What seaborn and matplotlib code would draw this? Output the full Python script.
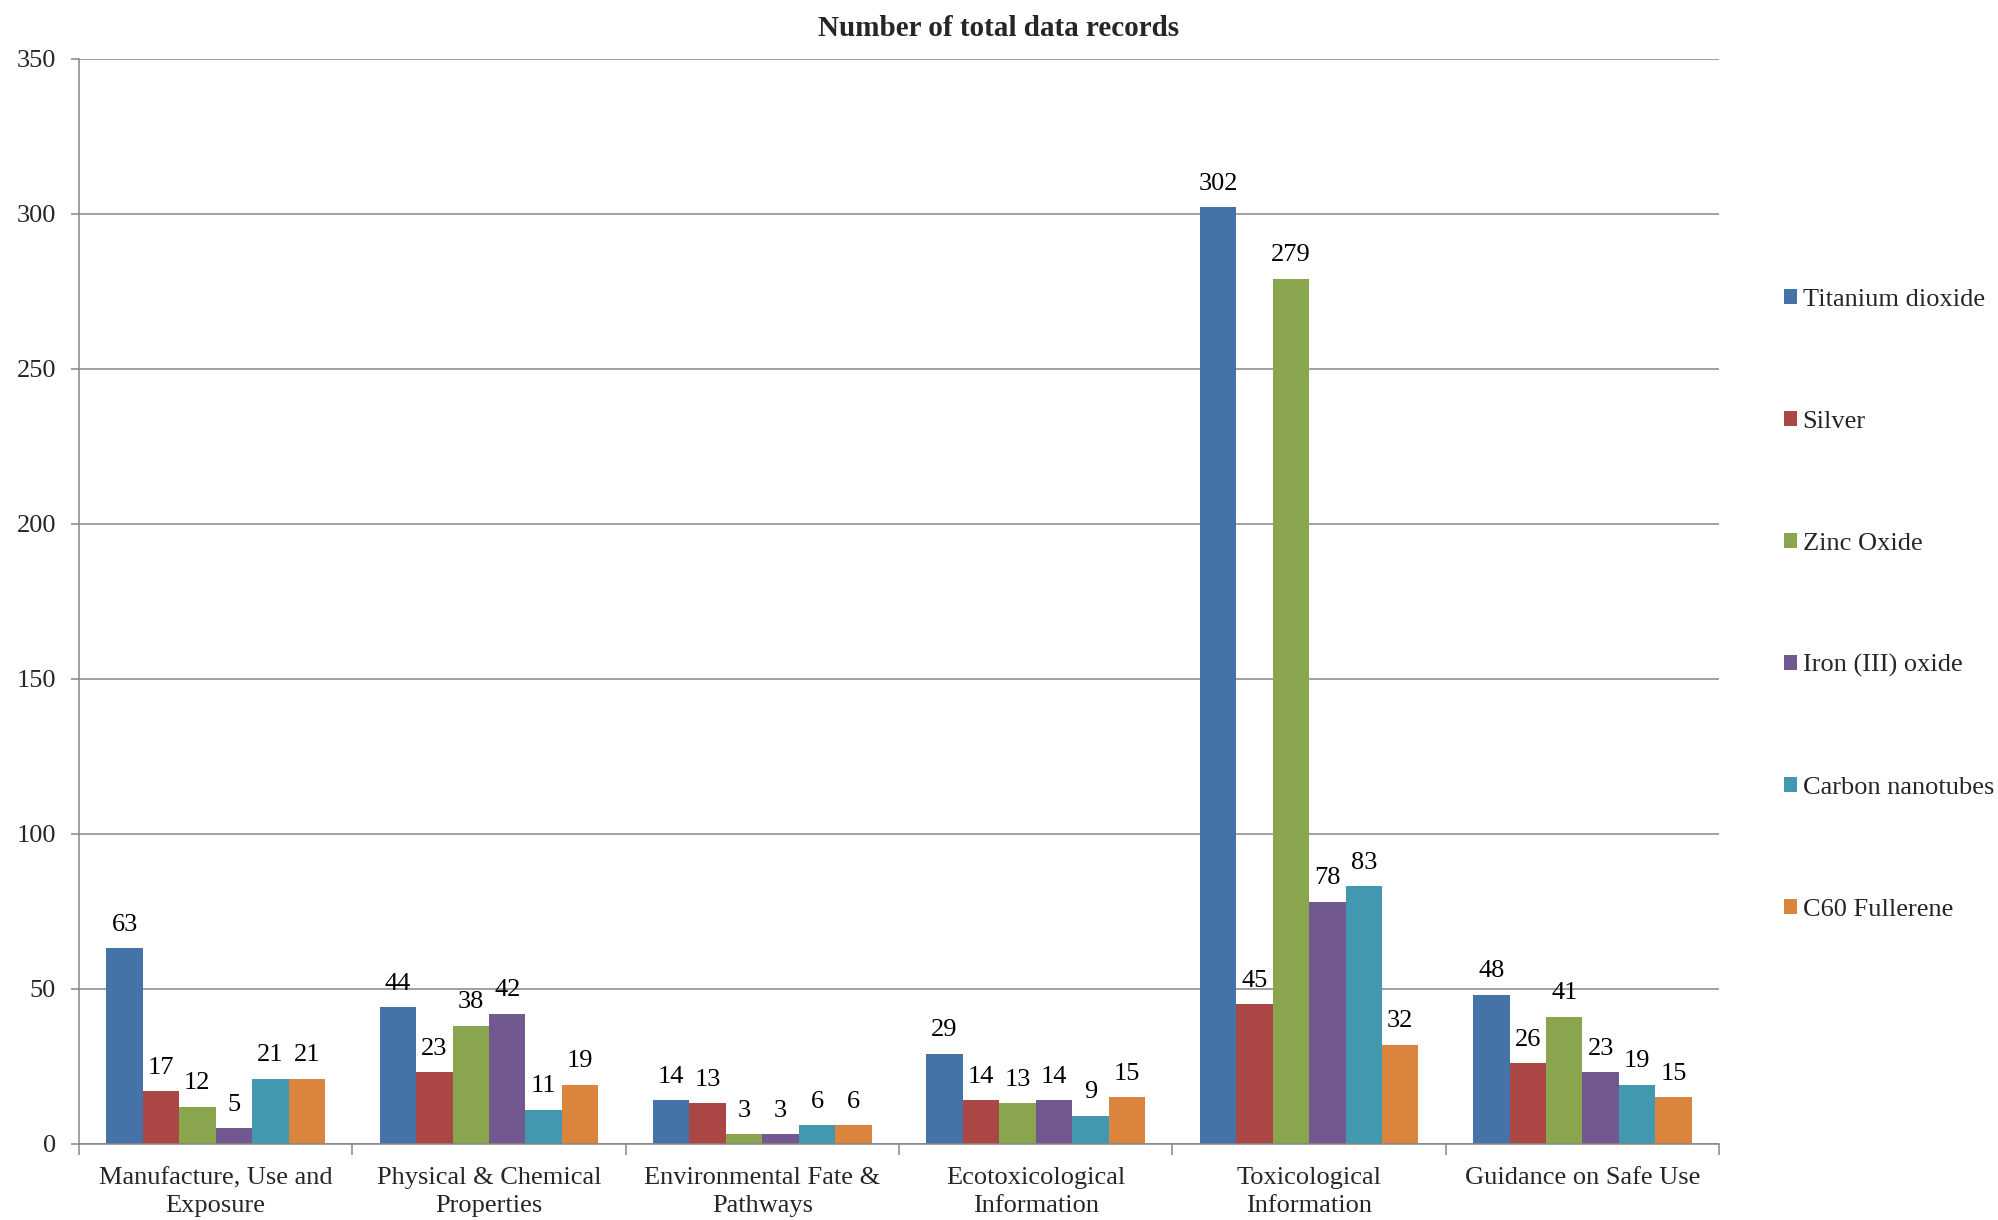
import matplotlib
matplotlib.use("Agg")
import matplotlib.pyplot as plt
import seaborn as sns
import pandas as pd

categories = ["Manufacture, Use and\nExposure", "Physical & Chemical\nProperties",
              "Environmental Fate &\nPathways", "Ecotoxicological\nInformation",
              "Toxicological\nInformation", "Guidance on Safe Use"]
series = ["Titanium dioxide", "Silver", "Zinc Oxide", "Iron (III) oxide",
          "Carbon nanotubes", "C60 Fullerene"]
titanium = [63, 44, 14, 29, 302, 48]
silver = [17, 23, 13, 14, 45, 26]
zinc = [12, 38, 3, 13, 279, 41]
iron = [5, 42, 3, 14, 78, 23]
cnt = [21, 11, 6, 9, 83, 19]
c60 = [21, 19, 6, 15, 32, 15]
colors = ["#4572A7", "#AA4643", "#89A54E", "#71588F", "#4198AF", "#DB843D"]

values = [titanium, silver, zinc, iron, cnt, c60]
rows = []
for s, vals in zip(series, values):
    for c, v in zip(categories, vals):
        rows.append({"category": c, "series": s, "value": v})
df = pd.DataFrame(rows)

sns.set_theme(style="white")
plt.rcParams["font.family"] = ["Liberation Serif", "DejaVu Serif"]

fig = plt.figure(figsize=(19.99, 12.2), dpi=100)
ax = fig.add_axes([0.0395, 0.0625, 0.8205, 0.8895])

sns.barplot(data=df, x="category", y="value", hue="series", order=categories,
            hue_order=series, palette=colors, width=0.8, gap=0, saturation=1,
            linewidth=0, ax=ax, legend=True)

fs = 19
for cont in ax.containers:
    ax.bar_label(cont, labels=[f"{int(v)}" for v in cont.datavalues], padding=9,
                 fontsize=fs, color="black")

ax.set_ylim(0, 350)
ax.set_xlim(-0.5, 5.5)
ax.set_yticks(range(0, 351, 50))
ax.yaxis.grid(True, color="#868686", linewidth=1.1)
ax.set_axisbelow(True)
ax.set_xlabel("")
ax.set_ylabel("")
for sp in ["top", "right"]:
    ax.spines[sp].set_visible(False)
for sp in ["left", "bottom"]:
    ax.spines[sp].set_color("#868686")
    ax.spines[sp].set_linewidth(1.1)
ax.tick_params(axis="y", which="major", left=True, length=6, width=1.1, color="#868686",
               labelsize=fs, pad=10.5)
ax.tick_params(axis="x", which="major", length=0, labelsize=fs, pad=17)
ax.set_xticks([i - 0.5 for i in range(7)], minor=True)
ax.tick_params(axis="x", which="minor", bottom=True, length=8, width=1.1, color="#868686")
for lbl in ax.get_xticklabels():
    lbl.set_linespacing(1.32)

handles, labels = ax.get_legend_handles_labels()
ax.legend_.remove()
fig.legend(handles, labels, loc="upper left", bbox_to_anchor=(0.8925, 0.763),
           frameon=False, fontsize=fs, handlelength=0.5, handleheight=0.5,
           handletextpad=0.2, labelspacing=3.78, borderpad=0, borderaxespad=0)

fig.text(0.4995, 0.977, "Number of total data records", ha="center", va="center",
         fontsize=21, fontweight="bold")

fig.savefig("out.png", dpi=100)
